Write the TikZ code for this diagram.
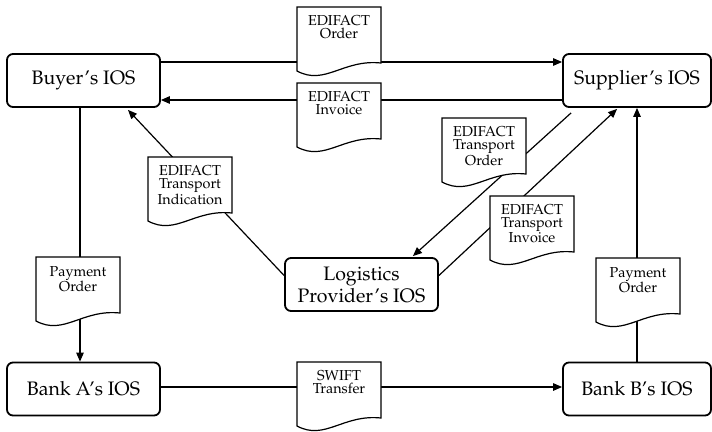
\documentclass[tikz,border=0pt]{standalone}
\usepackage[T1]{fontenc}
\usepackage{mathpazo}
\usetikzlibrary{arrows.meta,calc}
\begin{document}
\begin{tikzpicture}[x=1pt,y=-1pt,
  sysbox/.style={draw,rounded corners=6pt,line width=1.8pt,minimum height=53pt,
    align=center,inner sep=2pt,font=\fontsize{19.5}{22}\selectfont},
  doctext/.style={anchor=north,align=center,inner sep=0pt,
    font=\fontsize{14.4}{13.2}\selectfont},
  flow/.style={line width=1.2pt},
  arr/.style={flow,-{Triangle[length=9pt,width=7.5pt]}},
  docpaper/.pic={\filldraw[fill=white,line width=1.2pt,line join=miter]
    (0,0) -- (84,0) -- (84,56) .. controls (46,52) and (28,79) .. (0,64) -- cycle;}
]
\useasboundingbox (0,0) rectangle (712,431);

% information systems
\node[sysbox,minimum width=153pt] (buyer) at (83.5,80.5) {Buyer's IOS};
\node[sysbox,minimum width=148pt] (supp)  at (637,80.5)  {Supplier's IOS};
\node[sysbox,minimum width=153pt] (bankA) at (83.5,389)  {Bank A's IOS};
\node[sysbox,minimum width=148pt] (bankB) at (637,389)   {Bank B's IOS};
\node[sysbox,minimum width=153pt] (logi)  at (361.5,284.5) {Logistics\\Provider's IOS};

% message flows
\coordinate (yOrd) at (0,62);
\coordinate (yInv) at (0,100);
\coordinate (ySw)  at (0,387);
\draw[arr] (buyer.east |- yOrd) -- (supp.west |- yOrd);
\draw[arr] (supp.west |- yInv) -- (buyer.east |- yInv);
\draw[arr] ($(logi.west)+(0,-9)$) -- ($(buyer.south)+(44.5,2)$);
\draw[arr] ($(supp.south west)+(9,5)$) -- ($(logi.north east)+(-26,-1)$);
\draw[arr] ($(logi.east)+(0,-9)$) -- ($(supp.south west)+(55,1)$);
\draw[arr] (bankB.north) -- (supp.south);
\draw[arr] ($(buyer.south)+(-3.5,0)$) -- ($(bankA.north)+(-3.5,0)$);
\draw[arr] (bankA.east |- ySw) -- (bankB.west |- ySw);

% documents carried by the flows
\pic at (297,7) {docpaper};
\node[doctext] (dOrd) at (339,15.5) {EDIFACT\\Order};
\pic at (297,83) {docpaper};
\node[doctext] (dInv) at (339,91.5) {EDIFACT\\Invoice};
\pic at (148,157) {docpaper};
\node[doctext] (dTInd) at (190,165.5) {EDIFACT\\Transport\\Indication};
\pic at (442,118) {docpaper};
\node[doctext] (dTOrd) at (484,126.5) {EDIFACT\\Transport\\Order};
\pic at (490,196) {docpaper};
\node[doctext] (dTInv) at (532,204.5) {EDIFACT\\Transport\\Invoice};
\pic at (36,257) {docpaper};
\node[doctext] (dPayA) at (78,266) {Payment\\Order};
\pic at (596,258) {docpaper};
\node[doctext] (dPayB) at (638,267) {Payment\\Order};
\pic at (297,362) {docpaper};
\node[doctext] (dSwift) at (339,370.5) {SWIFT\\Transfer};
\end{tikzpicture}
\end{document}
